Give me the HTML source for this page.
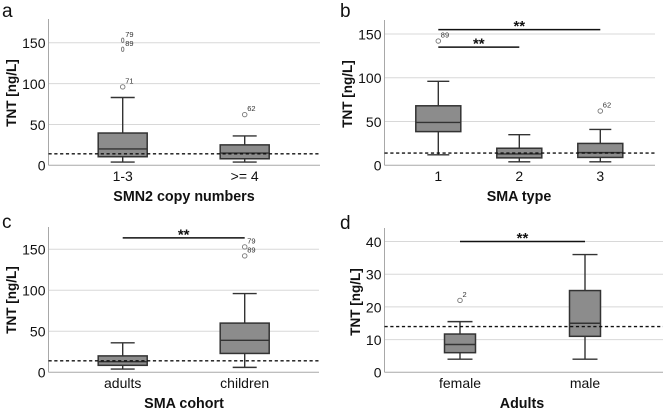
<!DOCTYPE html>
<html>
<head>
<meta charset="utf-8">
<title>TNT boxplots</title>
<style>
html,body{margin:0;padding:0;background:#fff;width:663px;height:410px;overflow:hidden}
svg{display:block;filter:blur(0.3px)}
text{font-family:"Liberation Sans",Arial,sans-serif}
</style>
</head>
<body>
<svg id="chart" xmlns="http://www.w3.org/2000/svg" width="663" height="410" viewBox="0 0 663 410"></svg>
<script>
// Panel a
const aCategories = ["1-3", ">= 4"];
const aQ1 = [10.5, 8];
const aMedian = [20, 15];
const aQ3 = [39.5, 25];
const aLow = [4, 4];
const aHigh = [83, 36];
const aOutliers = [[96, 153, 142], [62]];
const aOutlierLabels = [["71", "79", "89"], ["62"]];
const aTicks = [0, 50, 100, 150];
const aSigFrom = [];
const aSigTo = [];
const aSigValue = [];
// Panel b
const bCategories = ["1", "2", "3"];
const bQ1 = [38.5, 8.5, 9];
const bMedian = [49, 13, 14.5];
const bQ3 = [68, 19.5, 25];
const bLow = [12, 4, 4];
const bHigh = [96, 35, 41];
const bOutliers = [[142], [], [62]];
const bOutlierLabels = [["89"], [], ["62"]];
const bTicks = [0, 50, 100, 150];
const bSigFrom = [0, 0];
const bSigTo = [2, 1];
const bSigValue = [155, 135];
// Panel c
const cCategories = ["adults", "children"];
const cQ1 = [8.5, 23];
const cMedian = [13, 39];
const cQ3 = [20, 60];
const cLow = [4, 6];
const cHigh = [36, 96];
const cOutliers = [[], [153, 142]];
const cOutlierLabels = [[], ["79", "89"]];
const cTicks = [0, 50, 100, 150];
const cSigFrom = [0];
const cSigTo = [1];
const cSigValue = [164];
// Panel d
const dCategories = ["female", "male"];
const dQ1 = [6, 11];
const dMedian = [8.5, 15];
const dQ3 = [11.7, 25];
const dLow = [4, 4];
const dHigh = [15.5, 36];
const dOutliers = [[22], []];
const dOutlierLabels = [["2"], []];
const dTicks = [0, 10, 20, 30, 40];
const dSigFrom = [0];
const dSigTo = [1];
const dSigValue = [40];
// Reference cut-off line shared by all panels
const cutoffValue = [14];

const NS = "http://www.w3.org/2000/svg";
const svg = document.getElementById("chart");

function mk(parent, tag, attrs, txt) {
  const el = document.createElementNS(NS, tag);
  for (const k in attrs) el.setAttribute(k, attrs[k]);
  if (txt !== undefined) el.textContent = txt;
  parent.appendChild(el);
  return el;
}

function drawPanel(L, categories, q1, med, q3, low, high, outliers, outLabels, ticks, sigFrom, sigTo, sigValue) {
  const x = i => L.xFirst + i * L.xStep;
  const y = v => L.y0 - v * L.k;
  const g = mk(svg, "g", {});
  
  

  const letter = mk(g, "text", {x: L.letterX, y: L.letterY, "font-size": 19, fill: "#111"}, L.id);
  
  

  ticks.forEach(t => {
    if (t !== 0) {
      const gl = mk(g, "line", {x1: L.xL, x2: L.xR, y1: y(t), y2: y(t), stroke: "#d8d8d8", "stroke-width": 1});
      
      
    }
    const tl = mk(g, "text", {x: L.xL - 3, y: y(t) + 5.4, "text-anchor": "end", "font-size": 14, fill: "#111"}, t);
    
    
  });

  const yAxis = mk(g, "line", {x1: L.xL, x2: L.xL, y1: L.yTop, y2: L.y0, stroke: "#a8a8a8", "stroke-width": 1});
  
  
  const xAxis = mk(g, "line", {x1: L.xL, x2: L.xR, y1: L.y0, y2: L.y0, stroke: "#a8a8a8", "stroke-width": 1});
  
  

  categories.forEach((c, i) => {
    const cx = x(i);
    const stem = mk(g, "path", {d: `M${cx} ${y(q3[i])}V${y(high[i])}M${cx} ${y(q1[i])}V${y(low[i])}`, stroke: "#333", "stroke-width": 1.4, fill: "none"});
    
    
    const caps = mk(g, "path", {d: `M${cx - L.capW / 2} ${y(high[i])}h${L.capW}M${cx - L.capW / 2} ${y(low[i])}h${L.capW}`, stroke: "#333", "stroke-width": 1.4, fill: "none"});
    
    
    const box = mk(g, "rect", {x: cx - L.boxW / 2, y: y(q3[i]), width: L.boxW, height: y(q1[i]) - y(q3[i]), fill: "#8c8c8c", stroke: "#333", "stroke-width": 1.5});
    
    
    const m = mk(g, "line", {x1: cx - L.boxW / 2, x2: cx + L.boxW / 2, y1: y(med[i]), y2: y(med[i]), stroke: "#333", "stroke-width": 1.4});
    
    

    outliers[i].forEach((v, j) => {
      const rx = (L.narrowAbove !== undefined && v > L.narrowAbove) ? 1.2 : 2.3;
      const o = mk(g, "ellipse", {cx: cx, cy: y(v), rx: rx, ry: 2.2, fill: "#fff", stroke: "#777", "stroke-width": 0.9});
      
      
      const ol = mk(g, "text", {x: cx + 2.5, y: y(v) - 3.4, "font-size": 7.5, fill: "#333"}, outLabels[i][j]);
      
      
    });

    const xl = mk(g, "text", {x: cx, y: L.catY, "text-anchor": "middle", "font-size": 14, fill: "#111"}, c);
    
    
  });

  const cut = mk(g, "line", {x1: L.xL, x2: L.xR, y1: y(cutoffValue[0]), y2: y(cutoffValue[0]), stroke: "#111", "stroke-width": 1.4, "stroke-dasharray": "3.2 2.6"});
  
  

  sigValue.forEach((v, i) => {
    const s = mk(g, "line", {x1: x(sigFrom[i]), x2: x(sigTo[i]), y1: y(v), y2: y(v), stroke: "#111", "stroke-width": 1.5});
    
    
    const st = mk(g, "text", {x: (x(sigFrom[i]) + x(sigTo[i])) / 2, y: y(v) + 1.5, "text-anchor": "middle", "font-size": 15, "font-weight": "bold", fill: "#111"}, "**");
    
    
  });

  const xt = mk(g, "text", {x: L.xTitleX, y: L.xTitleY, "text-anchor": "middle", "font-size": 14.3, "font-weight": "bold", fill: "#111"}, L.xTitle);
  
  
  const yt = mk(g, "text", {transform: `translate(${L.yTitleX} ${L.yTitleY}) rotate(-90)`, "text-anchor": "middle", "font-size": 13.5, "font-weight": "bold", fill: "#111"}, "TNT [ng/L]");
  
  
}

drawPanel({id: "a", xL: 48.5, xR: 320, yTop: 19, y0: 165.3, k: 0.817, xFirst: 122.7, xStep: 122, boxW: 49, capW: 24, catY: 181, letterX: 2, letterY: 17, xTitle: "SMN2 copy numbers", xTitleX: 184, xTitleY: 201, yTitleX: 16, yTitleY: 93, narrowAbove: 100},
  aCategories, aQ1, aMedian, aQ3, aLow, aHigh, aOutliers, aOutlierLabels, aTicks, aSigFrom, aSigTo, aSigValue);
drawPanel({id: "b", xL: 384.5, xR: 655, yTop: 20, y0: 165.3, k: 0.875, xFirst: 438.3, xStep: 81, boxW: 45, capW: 22, catY: 181, letterX: 340, letterY: 17, xTitle: "SMA type", xTitleX: 519, xTitleY: 201, yTitleX: 352, yTitleY: 94},
  bCategories, bQ1, bMedian, bQ3, bLow, bHigh, bOutliers, bOutlierLabels, bTicks, bSigFrom, bSigTo, bSigValue);
drawPanel({id: "c", xL: 48.5, xR: 319, yTop: 227, y0: 372.3, k: 0.82, xFirst: 122.7, xStep: 122, boxW: 49, capW: 24, catY: 388, letterX: 2, letterY: 228, xTitle: "SMA cohort", xTitleX: 184, xTitleY: 408, yTitleX: 16, yTitleY: 300},
  cCategories, cQ1, cMedian, cQ3, cLow, cHigh, cOutliers, cOutlierLabels, cTicks, cSigFrom, cSigTo, cSigValue);
drawPanel({id: "d", xL: 384.5, xR: 663, yTop: 228, y0: 372.3, k: 3.27, xFirst: 460, xStep: 125, boxW: 31, capW: 25, catY: 388, letterX: 340, letterY: 229, xTitle: "Adults", xTitleX: 522, xTitleY: 408, yTitleX: 360, yTitleY: 302},
  dCategories, dQ1, dMedian, dQ3, dLow, dHigh, dOutliers, dOutlierLabels, dTicks, dSigFrom, dSigTo, dSigValue);
</script>
</body>
</html>
